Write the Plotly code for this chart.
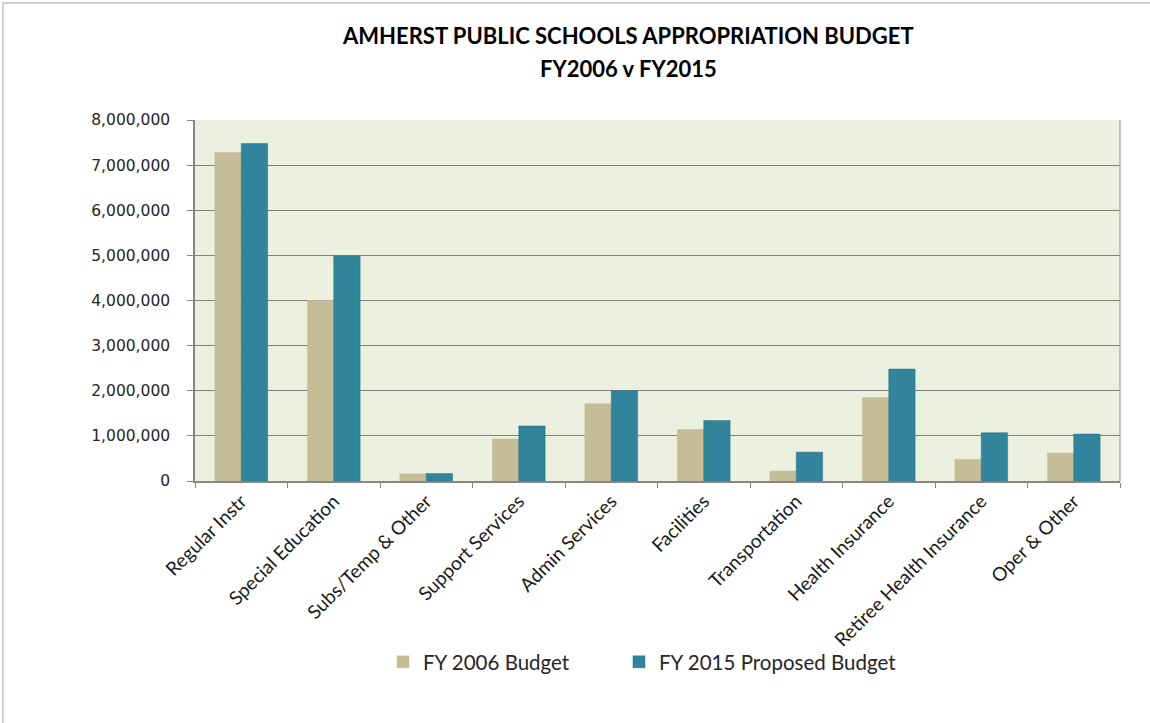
import plotly.graph_objects as go

categories = ["Regular Instr", "Special Education", "Subs/Temp & Other", "Support Services",
              "Admin Services", "Facilities", "Transportation", "Health Insurance",
              "Retiree Health Insurance", "Oper & Other"]
fy2006 = [7280000, 4000000, 160000, 930000, 1710000, 1140000, 220000, 1850000, 480000, 620000]
fy2015 = [7480000, 4990000, 165000, 1220000, 2000000, 1340000, 640000, 2480000, 1070000, 1040000]
series_names = ["FY 2006 Budget", "FY 2015 Proposed Budget"]
ytick_vals = [0, 1000000, 2000000, 3000000, 4000000, 5000000, 6000000, 7000000, 8000000]
title_lines = ["AMHERST PUBLIC SCHOOLS APPROPRIATION BUDGET", "FY2006 v FY2015"]

W, H = 1150, 723
L, R, T, B = 195, 30, 120, 242
pw, ph = W - L - R, H - T - B

def px2x(px):
    return (px - L) / pw

def py2y(py):
    return (H - B - py) / ph

fig = go.Figure()
fig.add_trace(go.Bar(x=categories, y=fy2006, name=series_names[0], legend="legend",
                     marker=dict(color="#C4BD97", line=dict(color="#C4BD97", width=0.5))))
fig.add_trace(go.Bar(x=categories, y=fy2015, name=series_names[1], legend="legend2",
                     marker=dict(color="#31849B", line=dict(color="#2A7388", width=0.5))))

legend_common = dict(orientation="h", xanchor="left", yanchor="middle", itemwidth=30,
                     font=dict(family="Lato", size=20.5, color="#262626"),
                     bgcolor="rgba(0,0,0,0)")

fig.update_layout(
    width=W, height=H,
    margin=dict(l=L, r=R, t=T, b=B, autoexpand=False),
    paper_bgcolor="white",
    plot_bgcolor="#EBF1DE",
    barmode="group",
    bargap=0.43,
    bargroupgap=0,
    showlegend=True,
    legend=dict(x=px2x(383), y=py2y(662), **legend_common),
    legend2=dict(x=px2x(619), y=py2y(662), **legend_common),
    xaxis=dict(tickangle=-45, tickson="boundaries", ticks="outside", ticklen=5,
               tickcolor="#868686", showline=True, linecolor="#868686", linewidth=1.5,
               tickfont=dict(family="Lato", size=19, color="#1a1a1a"),
               mirror=False, showgrid=False),
    yaxis=dict(range=[0, 8000000], tickvals=ytick_vals, tickformat=",d",
               ticks="outside", ticklen=6, tickcolor="#868686",
               showline=True, linecolor="#868686", linewidth=1.5,
               gridcolor="#808080", gridwidth=1.2, ticklabelstandoff=14,
               tickfont=dict(family="DejaVu Sans", size=15.5, color="#262626"),
               zeroline=False),
)

# right border of plot area
fig.add_shape(type="line", xref="paper", yref="paper", x0=1, x1=1, y0=0, y1=1,
              line=dict(color="#A0A0A0", width=1.2))

# outer chart frame
fig.add_shape(type="rect", xref="paper", yref="paper",
              x0=px2x(3), x1=px2x(1170), y0=py2y(740), y1=py2y(3),
              line=dict(color="#D0D0D0", width=2), layer="below")

for i, (txt, py) in enumerate(zip(title_lines, [35, 68])):
    fig.add_annotation(text=f"<b>{txt}</b>", xref="paper", yref="paper",
                       x=px2x(628), y=py2y(py), xanchor="center", yanchor="middle",
                       showarrow=False, font=dict(family="Lato", size=22, color="#000000"))

fig.write_html("out.html")
